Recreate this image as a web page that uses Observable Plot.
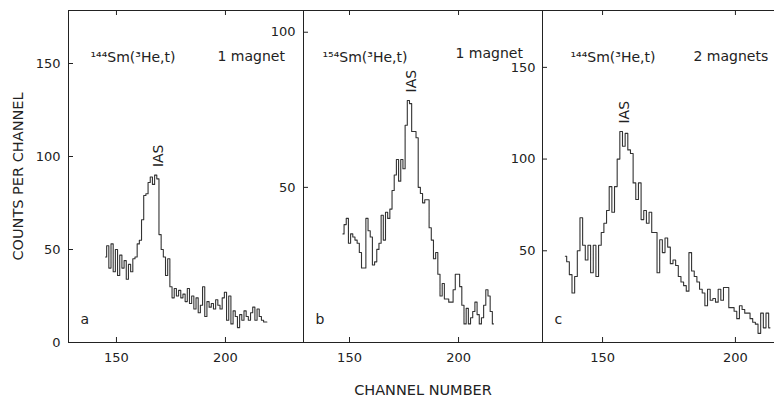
<!DOCTYPE html>
<html><head><meta charset="utf-8">
<script src="https://cdn.jsdelivr.net/npm/d3@7"></script>
<script src="https://cdn.jsdelivr.net/npm/@observablehq/plot@0.6"></script>
<style>
body{margin:0;background:#fff;}
#wrap{position:relative;width:774px;height:398px;overflow:hidden;background:#fff;}
#wrap svg{position:absolute;top:0;}
</style></head><body><div id="wrap"></div>
<script>
// ---- data (counts per channel) ----
const startA = 145;
const countsA = [46,52,40,53,38,50,36,47,40,44,34,42,38,45,46,53,55,66,79,80,86,89,85,90,88,
  58,50,46,36,45,30,24,29,25,28,24,26,22,29,21,25,18,24,16,20,30,14,22,19,21,18,23,20,18,24,
  27,12,25,10,17,14,8,15,12,17,14,12,16,19,12,18,14,12,11,11];
const startB = 147;
const countsB = [35,38,40,32,35,34,33,32,29,24,24,40,36,34,25,26,30,32,41,33,
  42,40,43,49,54,59,52,59,56,70,78,77,68,68,66,50,48,45,46,46,
  37,33,27,29,22,15,19,14,14,13,13,17,22,22,18,12,6,11,6,8,
  10,13,9,6,8,12,17,15,10,6];
const startC = 136;
const countsC = [47,44,37,27,36,50,68,53,45,53,38,53,36,53,60,65,72,85,71,85,
  100,115,107,114,105,103,87,78,87,67,72,65,71,60,60,38,56,49,57,52,
  43,45,42,36,33,31,28,49,39,36,33,29,27,20,29,23,24,22,29,23,
  30,30,19,19,17,13,20,18,16,16,13,11,10,5,16,8,16,8];
const xTicks = [150, 200];
const yTicksA = [0, 50, 100, 150];
const yTicksB = [50, 100];
const yTicksC = [50, 100, 150];
const titles = ["¹⁴⁴Sm(³He,t)", "¹⁵⁴Sm(³He,t)", "¹⁴⁴Sm(³He,t)"];
const setups = ["1 magnet", "1 magnet", "2 magnets"];
const letters = ["a", "b", "c"];
const peakLabel = "IAS";
const xTitle = "CHANNEL NUMBER";
const yTitle = "COUNTS PER CHANNEL";

const font = "'DejaVu Sans', sans-serif";
const ink = "#222";
const H = 398, MT = 10, MB = 56, TICK = 5;

function panel(o) {
  const rows = o.counts.map((v, i) => ({channel: o.start + i, counts: v}));
  const peak = rows.reduce((a, b) => (b.counts > a.counts ? b : a));
  const fw = o.width - o.marginLeft;      // frame width in px
  const fh = H - MT - MB;                 // frame height in px
  const svg = Plot.plot({
    width: o.width, height: H,
    marginLeft: o.marginLeft, marginRight: 0, marginTop: MT, marginBottom: MB,
    style: {background: "transparent", overflow: "visible", fontFamily: font, fontSize: "13px", color: ink},
    x: {domain: o.xDomain},
    y: {domain: o.yDomain},
    marks: [
      Plot.ruleY([o.yDomain[0]], {stroke: ink}),
      Plot.ruleY([o.yDomain[1]], {stroke: ink}),
      Plot.ruleX([o.xDomain[0]], {stroke: ink}),
      // inward tick marks
      Plot.ruleX(xTicks, {insetTop: fh - TICK, stroke: ink}),
      Plot.ruleX(xTicks, {insetBottom: fh - TICK, stroke: ink}),
      Plot.ruleY(o.yTicks, {insetRight: fw - TICK, stroke: ink}),
      Plot.axisX(xTicks, {anchor: "bottom", tickSize: 0, tickPadding: 10,
        label: o.xLabel ?? null, labelAnchor: "center", labelOffset: 52, labelArrow: "none", fontSize: 13}),
      Plot.axisY(o.yTicks, {anchor: "left", tickSize: 0, tickPadding: o.yPad,
        label: o.yLabel ?? null, labelAnchor: "center", labelOffset: 56, labelArrow: "none", fontSize: 13}),
      Plot.line(rows, {x: "channel", y: "counts", curve: "step", stroke: "#333", strokeWidth: 1.1}),
      Plot.text([peak], {x: "channel", y: "counts", text: () => peakLabel, rotate: -90,
        textAnchor: "start", dy: -8, dx: 3, fontSize: 14, fill: ink}),
      Plot.text([o.title], {frameAnchor: "top-left", dx: o.titleDx, dy: 42, textAnchor: "start", fontSize: 14, fill: ink}),
      Plot.text([o.setup], {frameAnchor: "top-left", dx: o.setupDx, dy: o.setupDy, textAnchor: "start", fontSize: 14, fill: ink}),
      Plot.text([o.letter], {frameAnchor: "bottom-left", dx: o.letterDx, dy: -19, textAnchor: "start", fontSize: 14, fill: ink})
    ]
  });
  svg.style.left = o.left + "px";
  // axis title font sizes
  svg.querySelectorAll("g[aria-label='x-axis label'] text, g[aria-label='y-axis label'] text")
    .forEach(t => t.setAttribute("font-size", "14.5"));
  document.getElementById("wrap").appendChild(svg);
}

panel({counts: countsA, start: startA, xDomain: [128, 235.8], yDomain: [0, 178.5], yTicks: yTicksA,
  left: 0, width: 303, marginLeft: 68, title: titles[0], setup: setups[0], letter: letters[0],
  titleDx: 22, setupDx: 149, setupDy: 41, letterDx: 12, yPad: 8, yLabel: yTitle});
panel({counts: countsB, start: startB, xDomain: [128.9, 238.5], yDomain: [0, 107], yTicks: yTicksB,
  left: 250, width: 292, marginLeft: 53, title: titles[1], setup: setups[1], letter: letters[1],
  titleDx: 19, setupDx: 152, setupDy: 38, letterDx: 12, yPad: 8, xLabel: xTitle});
panel({counts: countsC, start: startC, xDomain: [127.4, 214.7], yDomain: [0, 181], yTicks: yTicksC,
  left: 500, width: 274, marginLeft: 42, title: titles[2], setup: setups[2], letter: letters[2],
  titleDx: 28, setupDx: 151, setupDy: 41, letterDx: 12, yPad: 7});
</script></body></html>
